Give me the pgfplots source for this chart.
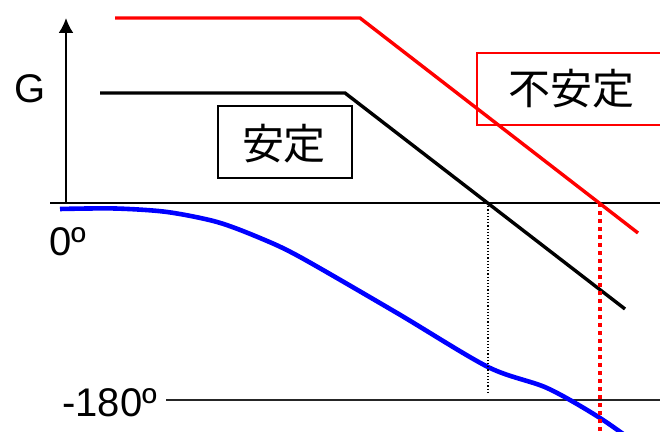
\documentclass[border=0pt]{standalone}
\usepackage{fontspec}
\setmainfont{Liberation Sans}
\newfontfamily\cjk{Noto Sans CJK JP}
\usepackage{pgfplots}
\pgfplotsset{compat=1.18}
\usetikzlibrary{arrows.meta}
\begin{document}
\begin{tikzpicture}
\begin{axis}[name=ax,
  scale only axis, width=330pt, height=216pt,
  xmin=0, xmax=660, ymin=0, ymax=432,
  hide axis, clip=true]
% axes (pixel coordinates, y = 432 - row)
\addplot[black, line width=1.1pt, -{Latex[length=7.5pt,width=7.5pt]}] coordinates {(66,229) (66,414)};
\addplot[black, line width=1.1pt] coordinates {(50,229) (660,229)};
\addplot[black!85, line width=1.1pt] coordinates {(166,32) (660,32)};
% gain curves
\addplot[black, line width=1.7pt] coordinates {(100,339) (345,339) (625,123)};
\addplot[red, line width=1.7pt] coordinates {(115,414) (360,414) (638,199)};
% phase curve
\addplot[blue, line width=2.3pt, smooth, tension=0.5] coordinates {
 (60,223) (115,223.5) (167,220) (217,210) (260,194) (300,175) (397,119) (488,65)
 (547,44) (600,14) (645,-18)};
% dotted verticals
\addplot[black, line width=0.8pt, dash pattern=on 0.6pt off 1pt] coordinates {(488,229) (488,39)};
\addplot[red, line width=2pt, dash pattern=on 2pt off 2pt] coordinates {(600,229) (600,-5)};
% boxes
\draw[black, line width=0.8pt] (axis cs:218,326) rectangle (axis cs:352,254);
\draw[red, line width=0.8pt] (axis cs:662,379) -- (axis cs:477,379) -- (axis cs:477,307) -- (axis cs:662,307);
% labels
\node[font=\fontsize{21}{24}\selectfont] at (axis cs:284,288) {\cjk 安定};
\node[font=\fontsize{21}{24}\selectfont] at (axis cs:571,343) {\cjk 不安定};
\node[font=\fontsize{20}{24}\selectfont] at (axis cs:30,343) {G};
\node[font=\fontsize{20}{24}\selectfont, anchor=west, inner sep=0pt] at (axis cs:49,190) {0º};
\node[font=\fontsize{20}{24}\selectfont, anchor=west, inner sep=0pt] at (axis cs:62,29) {-180º};
\end{axis}
\pgfresetboundingbox
\path (ax.south west) rectangle (ax.north east);
\end{tikzpicture}
\end{document}
